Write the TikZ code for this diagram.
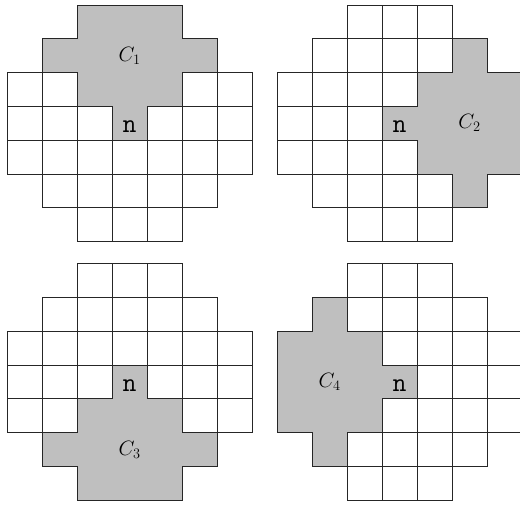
\documentclass[tikz,border=0pt]{standalone}
\usepackage{tikz}
\tikzset{
  cellgrid/.style={draw=black!85, line width=0.8pt},
  region/.style={fill=black!25, draw=black!85, line width=0.8pt, line join=miter},
  lbl/.style={font=\fontsize{22}{26}\selectfont, inner sep=0pt},
  nlbl/.style={font=\fontsize{27}{31}\selectfont\ttfamily, inner sep=0pt},
  panel/.style={x=34.95pt, y=-33.8pt}
}
\newcommand\drawdisc{%
  \foreach \j/\a/\b in {0/2/4,1/1/5,2/0/6,3/0/6,4/0/6,5/1/5,6/2/4}{%
    \foreach \i in {\a,...,\b}{\draw[cellgrid] (\i,\j) rectangle ++(1,1);}}}
\begin{document}
\begin{tikzpicture}[x=1pt, y=-1pt]
\useasboundingbox (0,0) rectangle (520,504);
% panel 1
\begin{scope}[shift={(7.3pt,-5pt)}, panel]
  \drawdisc
  \draw[region] (2,0) -- (5,0) -- (5,1) -- (6,1) -- (6,2) -- (5,2) -- (5,3) -- (4,3) -- (4,4) -- (3,4) -- (3,3) -- (2,3) -- (2,2) -- (1,2) -- (1,1) -- (2,1) -- cycle;
  \node[lbl] (c1) at (3.5,1.5) {$C_1$};
  \node[nlbl] (n1) at (3.5,3.6) {n};
\end{scope}
% panel 2
\begin{scope}[shift={(277.3pt,-5pt)}, panel]
  \drawdisc
  \draw[region] (3,3) -- (4,3) -- (4,2) -- (5,2) -- (5,1) -- (6,1) -- (6,2) -- (7,2) -- (7,5) -- (6,5) -- (6,6) -- (5,6) -- (5,5) -- (4,5) -- (4,4) -- (3,4) -- cycle;
  \node[lbl] (c2) at (5.5,3.5) {$C_2$};
  \node[nlbl] (n2) at (3.5,3.6) {n};
\end{scope}
% panel 3
\begin{scope}[shift={(7.3pt,-263.6pt)}, panel]
  \drawdisc
  \draw[region] (3,3) -- (4,3) -- (4,4) -- (5,4) -- (5,5) -- (6,5) -- (6,6) -- (5,6) -- (5,7) -- (2,7) -- (2,6) -- (1,6) -- (1,5) -- (2,5) -- (2,4) -- (3,4) -- cycle;
  \node[lbl] (c3) at (3.5,5.5) {$C_3$};
  \node[nlbl] (n3) at (3.5,3.6) {n};
\end{scope}
% panel 4
\begin{scope}[shift={(277.3pt,-263.6pt)}, panel]
  \drawdisc
  \draw[region] (4,3) -- (4,4) -- (3,4) -- (3,5) -- (2,5) -- (2,6) -- (1,6) -- (1,5) -- (0,5) -- (0,2) -- (1,2) -- (1,1) -- (2,1) -- (2,2) -- (3,2) -- (3,3) -- cycle;
  \node[lbl] (c4) at (1.5,3.5) {$C_4$};
  \node[nlbl] (n4) at (3.5,3.6) {n};
\end{scope}
\end{tikzpicture}
\end{document}
